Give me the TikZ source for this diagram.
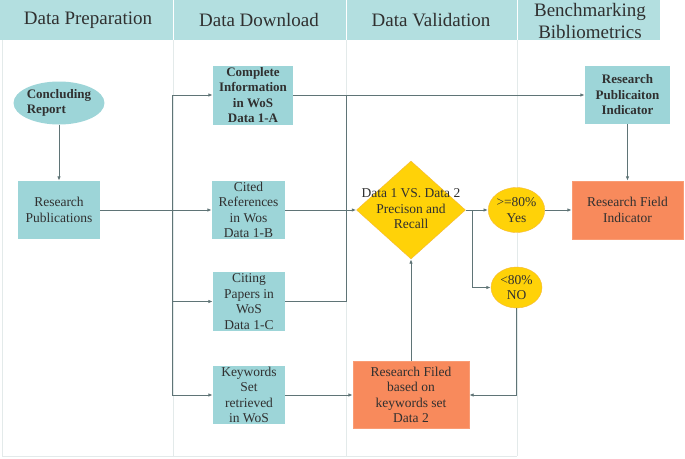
\documentclass[tikz,border=0pt]{standalone}
\usepackage{fontspec}
\setmainfont{Liberation Serif}
\usetikzlibrary{shapes.geometric,arrows.meta}
\definecolor{hdr}{HTML}{B3DFE0}
\definecolor{boxteal}{HTML}{9DD5D8}
\definecolor{orng}{HTML}{F88A5C}
\definecolor{yel}{HTML}{FFD208}
\definecolor{yelborder}{HTML}{F5B93A}
\definecolor{ln}{HTML}{5F7476}
\definecolor{gridc}{HTML}{E3EAEA}
\definecolor{txt}{HTML}{303030}
\begin{document}
\begin{tikzpicture}[x=1pt,y=-1pt,
  font=\fontsize{13.5}{15.5}\selectfont, text=txt,
  tbox/.style={rectangle, fill=boxteal, draw=none, inner sep=0pt, align=center},
  obox/.style={rectangle, fill=orng, draw=orng!85!white, inner sep=0pt, align=center},
  yell/.style={ellipse, fill=yel, draw=yelborder, inner sep=0pt, align=center, minimum width=51pt},
  conn/.style={draw=ln, line width=1pt, -{Latex[length=4.5pt,width=3.5pt]}},
  plainln/.style={draw=ln, line width=1pt},
  hdrtext/.style={font=\fontsize{19}{22}\selectfont, align=center},
  boldtx/.style={font=\fontsize{13}{15.5}\selectfont\bfseries}]
\useasboundingbox (0,0) rectangle (685,458);
\fill[white] (0,0) rectangle (685,458);
% header band and grid
\fill[hdr] (0,0) rectangle (660,40);
\draw[white, line width=0.8pt] (173,0) -- (173,40) (346,0) -- (346,40) (517,0) -- (517,40);
\draw[gridc, line width=1pt] (2,40) -- (2,456) -- (517,456);
\draw[gridc, line width=1pt] (173,40) -- (173,456) (346,40) -- (346,456) (517,40) -- (517,456);
\node[hdrtext] (h1) at (88,20) {Data Preparation};
\node[hdrtext] (h2) at (259,20) {Data Download};
\node[hdrtext] (h3) at (431,20) {Data Validation};
\node[hdrtext] (h4) at (590,21) {Benchmarking\\Bibliometrics};
% nodes
\node[ellipse, fill=boxteal, minimum width=72pt, minimum height=43pt, inner sep=0pt, align=left, boldtx] (cr) at (59,103) {Concluding\\Report};
\node[tbox, minimum width=82pt, minimum height=58pt] (rp) at (59,210) {Research\\Publications};
\node[tbox, boldtx, minimum width=80pt, minimum height=59pt] (d1a) at (253,95) {Complete\\Information\\in WoS\\Data 1-A};
\node[tbox, minimum width=73pt, minimum height=58pt] (d1b) at (248.5,210) {Cited\\References\\in Wos\\Data 1-B};
\node[tbox, minimum width=72pt, minimum height=59pt] (d1c) at (249,301.5) {Citing\\Papers in\\WoS\\Data 1-C};
\node[tbox, minimum width=72pt, minimum height=58pt] (kw) at (249,395) {Keywords\\Set\\retrieved\\in WoS};
\node[obox, minimum width=116pt, minimum height=67pt] (rf2) at (411,395) {Research Filed\\based on\\keywords set\\Data 2};
\node[diamond, fill=yel, draw=yelborder, aspect=1.11, minimum width=109pt, minimum height=98pt, inner sep=0pt] (dia) at (411,210) {};
\node[align=center] (dial) at (411,209) {Data 1 VS. Data 2\\Precison and\\Recall};
\node[yell, minimum height=45pt] (yes) at (516.5,210) {>=80\%\\Yes};
\node[yell, minimum height=41pt] (no) at (516.5,287.5) {<80\%\\NO};
\node[tbox, boldtx, minimum width=85pt, minimum height=58pt] (rpi) at (627.5,95) {Research\\Publicaiton\\Indicator};
\node[obox, minimum width=111pt, minimum height=58pt] (rfi) at (627.5,210) {Research Field\\Indicator};
% coordinates
\coordinate (trTop) at (172,95);
\coordinate (trC) at (172,301.5);
\coordinate (trBot) at (172,395);
\coordinate (mA) at (346,95);
\coordinate (mC) at (346,301.5);
\coordinate (split) at (472,210);
\coordinate (splitN) at (472,287.5);
% connectors
\draw[conn] (cr) -- (rp);
\draw[conn] (rp) -- (d1b);
\draw[plainln] (trTop) -- (trBot);
\draw[conn] (trTop) -- (d1a);
\draw[conn] (trC) -- (d1c);
\draw[conn] (trBot) -- (kw);
\draw[conn] (d1a) -- (rpi);
\draw[plainln] (mA) -- (mC);
\draw[plainln] (d1c) -- (mC);
\draw[conn] (d1b) -- (dia);
\draw[conn] (dia) -- (yes);
\draw[plainln] (split) -- (splitN);
\draw[conn] (splitN) -- (no);
\draw[conn] (yes) -- (rfi);
\draw[conn] (rpi) -- (rfi);
\draw[conn] (no) |- (rf2);
\draw[conn] (kw) -- (rf2);
\draw[conn] (rf2) -- (dia);
\end{tikzpicture}
\end{document}
